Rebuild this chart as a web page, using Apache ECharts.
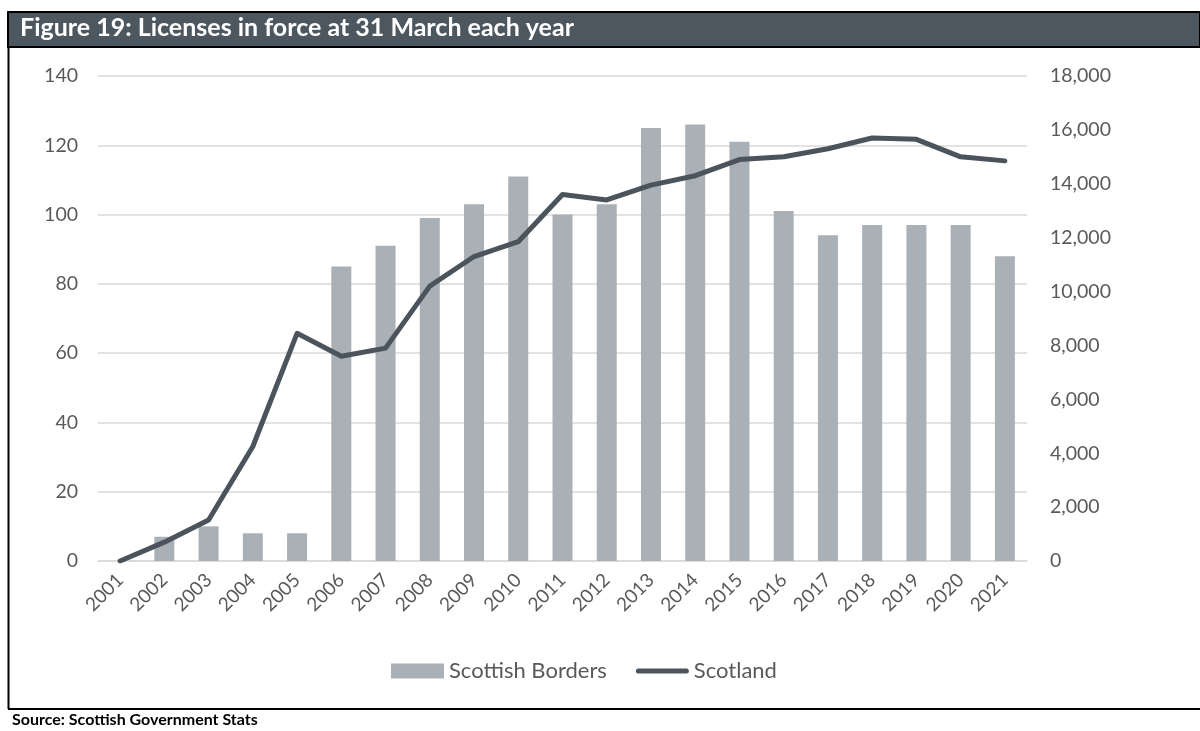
<!DOCTYPE html>
<html>
<head>
<meta charset="utf-8">
<title>Licenses in force at 31 March each year</title>
<script src="https://cdn.jsdelivr.net/npm/echarts@6/dist/echarts.min.js"></script>
<style>
  html, body { margin: 0; padding: 0; background: #ffffff; }
  #chart { width: 1200px; height: 731px; }
</style>
</head>
<body>
<div id="chart"></div>
<script>
// Years (31 March snapshot)
const years = ['2001','2002','2003','2004','2005','2006','2007','2008','2009','2010',
               '2011','2012','2013','2014','2015','2016','2017','2018','2019','2020','2021'];

// Licenses in force, Scottish Borders (left axis)
const bordersLicenses = [0, 7, 10, 8, 8, 85, 91, 99, 103, 111,
                         100, 103, 125, 126, 121, 101, 94, 97, 97, 97, 88];

// Licenses in force, Scotland (right axis)
const scotlandLicenses = [0, 700, 1520, 4250, 8450, 7600, 7900, 10200, 11300, 11850,
                          13600, 13400, 13950, 14300, 14900, 15000, 15300, 15700, 15650, 15000, 14850];

// Axis ranges
const leftAxisMax = 140, leftAxisStep = 20;
const rightAxisMax = 18000, rightAxisStep = 2000;

const titleText = 'Figure 19: Licenses in force at 31 March each year';
const sourceText = 'Source: Scottish Government Stats';

const FONT = 'Lato';
const LABEL_COLOR = '#595959';
const BAR_COLOR = '#a9b1b6';
const LINE_COLOR = '#4b545c';

const chart = echarts.init(document.getElementById('chart'), null, { renderer: 'canvas' });

chart.setOption({
  backgroundColor: '#ffffff',
  animation: false,
  textStyle: { fontFamily: FONT },
  grid: { left: 98, right: 173, top: 76, bottom: 170, containLabel: false },
  legend: {
    bottom: 44,
    left: 386,
    itemWidth: 53,
    itemHeight: 15,
    itemGap: 29,
    textStyle: { color: LABEL_COLOR, fontSize: 22, fontFamily: FONT },
    data: [
      { name: 'Scottish Borders', icon: 'rect' },
      { name: 'Scotland', icon: 'path://M2.5,0 H50.5 A2.5,2.5 0 0 1 50.5,5 H2.5 A2.5,2.5 0 0 1 2.5,0 Z' }
    ]
  },
  xAxis: {
    type: 'category',
    data: years,
    axisLine: { show: true, lineStyle: { color: '#d9d9d9', width: 1.5 } },
    axisTick: { show: false },
    axisLabel: { rotate: 45, color: LABEL_COLOR, fontSize: 19, margin: 16, fontFamily: FONT }
  },
  yAxis: [
    {
      type: 'value',
      min: 0, max: leftAxisMax, interval: leftAxisStep,
      axisLine: { show: false },
      axisTick: { show: false },
      axisLabel: { color: LABEL_COLOR, fontSize: 19.5, margin: 20, fontFamily: FONT },
      splitLine: { show: true, lineStyle: { color: '#d9d9d9', width: 1.5 } }
    },
    {
      type: 'value',
      min: 0, max: rightAxisMax, interval: rightAxisStep,
      position: 'right',
      axisLine: { show: false },
      axisTick: { show: false },
      axisLabel: {
        color: LABEL_COLOR, fontSize: 19.5, margin: 23, fontFamily: FONT,
        formatter: v => v.toLocaleString('en-GB')
      },
      splitLine: { show: false }
    }
  ],
  series: [
    {
      name: 'Scottish Borders',
      type: 'bar',
      yAxisIndex: 0,
      barWidth: 20,
      itemStyle: { color: BAR_COLOR },
      data: bordersLicenses
    },
    {
      name: 'Scotland',
      type: 'line',
      yAxisIndex: 1,
      symbol: 'none',
      lineStyle: { color: LINE_COLOR, width: 5, cap: 'round', join: 'round' },
      itemStyle: { color: LINE_COLOR },
      data: scotlandLicenses
    }
  ],
  graphic: [
    // title band
    { type: 'rect', shape: { x: 8, y: 12, width: 1192, height: 35 },
      style: { fill: '#4d5760', stroke: '#000000', lineWidth: 2 }, z: 10 },
    { type: 'text', left: 20, top: 15,
      style: { text: titleText, fill: '#ffffff', fontFamily: FONT, fontWeight: 'bold', fontSize: 25 }, z: 11 },
    // frame
    { type: 'line', shape: { x1: 8.5, y1: 47, x2: 8.5, y2: 709 },
      style: { stroke: '#000000', lineWidth: 2 }, z: 10 },
    { type: 'line', shape: { x1: 8, y1: 709, x2: 1200, y2: 709 },
      style: { stroke: '#000000', lineWidth: 2 }, z: 10 },
    // source note
    { type: 'text', left: 12, top: 712,
      style: { text: sourceText, fill: '#000000', fontFamily: FONT, fontWeight: 'bold', fontSize: 16 }, z: 11 }
  ]
});
</script>
</body>
</html>
